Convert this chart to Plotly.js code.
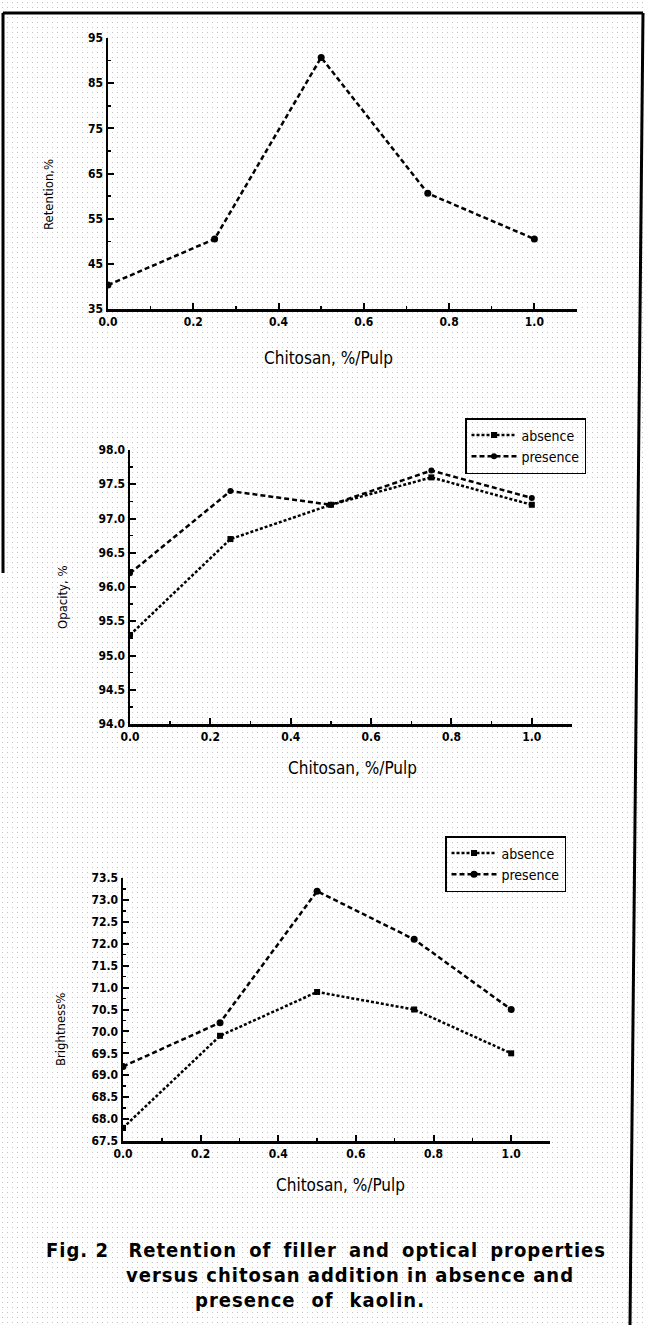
<!DOCTYPE html>
<html>
<head>
<meta charset="utf-8">
<script src="https://cdn.plot.ly/plotly-3.0.1.min.js"></script>
<style>
  html, body { margin: 0; padding: 0; background: #ffffff; }
  body {
    width: 646px; height: 1325px; position: relative; overflow: hidden;
    background-image: radial-gradient(circle, #c4c4c4 0.7px, rgba(255,255,255,0) 1px);
    background-size: 5px 5px;
  }
  #chart { position: absolute; left: 0; top: 0; width: 646px; height: 1325px; }
  .cap {
    position: absolute; font-family: "Liberation Sans Narrow", "DejaVu Sans Condensed", "Liberation Sans", sans-serif;
    font-weight: bold; font-size: 20px; color: #000; white-space: nowrap;
    text-align: justify; text-align-last: justify; letter-spacing: 1px; line-height: 24px;
  }
  .cap span.u { display: inline-block; }
</style>
</head>
<body>
<div id="chart"></div>
<div class="cap" style="left:46px; top:1238px; width:560px;"><span class="u">Fig.&nbsp;2</span> <span class="u">&nbsp;Retention</span> of filler and optical properties</div>
<div class="cap" style="left:126px; top:1263px; width:427px;">versus chitosan addition in absence and</div>
<div class="cap" style="left:195px; top:1288px; width:230px;">presence of kaolin.</div>
<script>
// ---- data ----
const chitosan = [0, 0.25, 0.5, 0.75, 1.0];
const retention = [40.3, 50.5, 90.7, 60.6, 50.5];
const opacityAbsence = [95.3, 96.7, 97.2, 97.6, 97.2];
const opacityPresence = [96.2, 97.4, 97.2, 97.7, 97.3];
const brightnessAbsence = [67.8, 69.9, 70.9, 70.5, 69.5];
const brightnessPresence = [69.2, 70.2, 73.2, 72.1, 70.5];
const seriesNames = ["absence", "presence"];
const xTitle = "Chitosan, %/Pulp";
const yTitles = ["Retention,%", "Opacity, %", "Brightness%"];

const W = 646, H = 1325;
const px = v => v / W;
const py = v => 1 - v / H;

const fam = '"Liberation Sans Narrow", "DejaVu Sans Condensed", sans-serif';
const tickFont = { family: fam, size: 12, color: '#000', weight: 'bold' };
const labFont = { family: fam, size: 17, color: '#000' };
const yLabFont = { family: fam, size: 13, color: '#000' };

const absDash = '3px,2px';
const preDash = '5px,3px';

const traces = [
  { x: chitosan, y: retention, xaxis: 'x', yaxis: 'y', mode: 'lines+markers', showlegend: false,
    line: { color: '#000', width: 2.5, dash: preDash }, marker: { symbol: 'circle', size: 7, color: '#000' } },
  { x: chitosan, y: opacityAbsence, xaxis: 'x2', yaxis: 'y2', mode: 'lines+markers', name: seriesNames[0], legend: 'legend',
    line: { color: '#000', width: 2.5, dash: absDash }, marker: { symbol: 'square', size: 6, color: '#000' } },
  { x: chitosan, y: opacityPresence, xaxis: 'x2', yaxis: 'y2', mode: 'lines+markers', name: seriesNames[1], legend: 'legend',
    line: { color: '#000', width: 2.5, dash: preDash }, marker: { symbol: 'circle', size: 6, color: '#000' } },
  { x: chitosan, y: brightnessAbsence, xaxis: 'x3', yaxis: 'y3', mode: 'lines+markers', name: seriesNames[0], legend: 'legend2',
    line: { color: '#000', width: 2.5, dash: absDash }, marker: { symbol: 'square', size: 6, color: '#000' } },
  { x: chitosan, y: brightnessPresence, xaxis: 'x3', yaxis: 'y3', mode: 'lines+markers', name: seriesNames[1], legend: 'legend2',
    line: { color: '#000', width: 2.5, dash: preDash }, marker: { symbol: 'circle', size: 7, color: '#000' } }
];

function xax(dom, anchor) {
  return {
    domain: dom, anchor: anchor, range: [0, 1.1], dtick: 0.2, tick0: 0, tickformat: '.1f',
    showgrid: false, zeroline: false, showline: true, linecolor: '#000', linewidth: 2.5,
    ticks: 'inside', ticklen: 6, tickwidth: 2, tickcolor: '#000', tickfont: tickFont,
    minor: { dtick: 0.1, ticks: 'inside', ticklen: 3, tickwidth: 1.5, tickcolor: '#000', showgrid: false },
    fixedrange: true
  };
}
function yax(dom, anchor, range, dtick, minorDtick, fmt) {
  return {
    domain: dom, anchor: anchor, range: range, dtick: dtick, tick0: range[0], tickformat: fmt,
    showgrid: false, zeroline: false, showline: true, linecolor: '#000', linewidth: 2.5,
    ticks: 'inside', ticklen: 6, tickwidth: 2, tickcolor: '#000', tickfont: tickFont,
    minor: { dtick: minorDtick, ticks: 'inside', ticklen: 3, tickwidth: 1.5, tickcolor: '#000', showgrid: false },
    fixedrange: true
  };
}

const legendCommon = {
  bgcolor: 'rgba(255,255,255,0)', bordercolor: '#000', borderwidth: 1.5,
  font: { family: fam, size: 14, color: '#000' },
  xanchor: 'left', yanchor: 'top', itemwidth: 45, tracegroupgap: 0
};

function ann(text, x, y, font, angle) {
  return { text: text, xref: 'paper', yref: 'paper', x: px(x), y: py(y), xanchor: 'center', yanchor: 'middle',
           showarrow: false, textangle: angle || 0, font: font };
}

const layout = {
  width: W, height: H, margin: { l: 0, r: 0, t: 0, b: 0 },
  paper_bgcolor: 'rgba(0,0,0,0)', plot_bgcolor: 'rgba(0,0,0,0)',
  xaxis: xax([px(108), px(577)], 'y'),
  yaxis: yax([py(309), py(38)], 'x', [35, 95], 10, 5, 'd'),
  xaxis2: xax([px(130), px(572)], 'y2'),
  yaxis2: yax([py(724), py(450)], 'x2', [94, 98], 0.5, 0.25, '.1f'),
  xaxis3: xax([px(123), px(550)], 'y3'),
  yaxis3: yax([py(1141), py(878)], 'x3', [67.5, 73.5], 0.5, 0.25, '.1f'),
  legend: Object.assign({}, legendCommon, { x: px(465), y: py(418) }),
  legend2: Object.assign({}, legendCommon, { x: px(445), y: py(836) }),
  annotations: [
    ann(xTitle, 328, 358, labFont),
    ann(xTitle, 352, 768, labFont),
    ann(xTitle, 340, 1185, labFont),
    ann(yTitles[0], 49, 195, yLabFont, -90),
    ann(yTitles[1], 62, 597, yLabFont, -90),
    ann(yTitles[2], 60, 1030, yLabFont, -90)
  ],
  shapes: [
    { type: 'line', xref: 'paper', yref: 'paper', x0: px(3), y0: py(13), x1: px(643), y1: py(13), line: { color: '#000', width: 3 } },
    { type: 'line', xref: 'paper', yref: 'paper', x0: px(3), y0: py(13), x1: px(3), y1: py(573), line: { color: '#000', width: 3 } },
    { type: 'line', xref: 'paper', yref: 'paper', x0: px(643), y0: py(13), x1: px(630), y1: py(1325), line: { color: '#000', width: 3 } }
  ],
  showlegend: true
};

Plotly.newPlot('chart', traces, layout, { displayModeBar: false, staticPlot: true });
</script>
</body>
</html>
